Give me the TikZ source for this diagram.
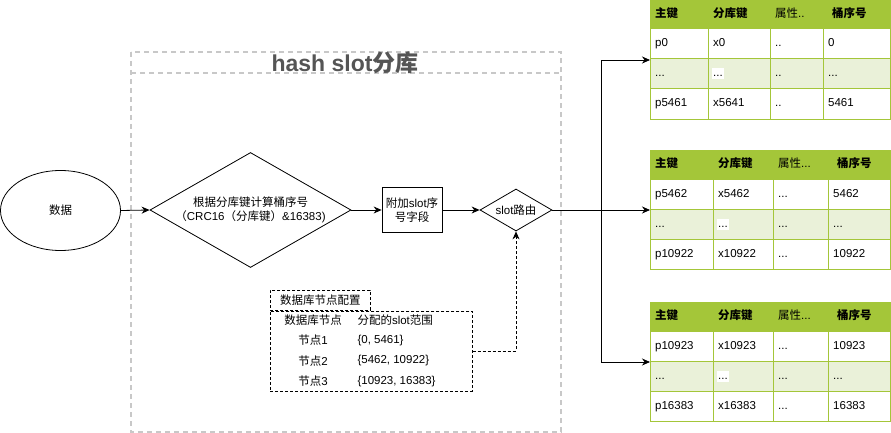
\documentclass[tikz,border=0pt]{standalone}
\usepackage{fontspec}
\setmainfont{Liberation Sans}
\newfontfamily\zhfont{Noto Sans CJK SC}
\newcommand{\zh}[1]{{\zhfont #1}}
\usetikzlibrary{arrows.meta}
\usetikzlibrary{shapes.geometric}
\definecolor{headgreen}{HTML}{A4C639}
\definecolor{rowgreen}{HTML}{EAF1D9}
\definecolor{boxgray}{HTML}{C8C8C8}
\definecolor{titlegray}{HTML}{555555}
\tikzset{>={Stealth[length=8pt,width=7pt]}}
\tikzset{
	flow/.style={draw, line width=0.8pt, fill=white},
	cell/.style={anchor=west, inner sep=0pt, text height=8.5pt, text depth=2.5pt},
	tabline/.style={draw=headgreen, line width=1pt},
	groupbox/.style={draw=boxgray, line width=1.3pt, dash pattern=on 5pt off 4pt},
	cfgbox/.style={draw, line width=0.7pt, dash pattern=on 3pt off 2pt},
}
% #1 name, #2 top, #3-#5 column lines, #6 attribute header
\newcommand{\slottable}[6]{%
	\def\tabname{#1}\def\tabtop{#2}\def\ctwo{#3}\def\cthree{#4}\def\cfour{#5}%
	\fill[headgreen] (650,#2) rectangle (890,#2+29);
	\fill[rowgreen] (650,#2+59) rectangle (890,#2+89);
	\foreach \yy in {29,59,89} \draw[tabline] (650,#2+\yy) -- (890,#2+\yy);
	\foreach \xx in {#3,#4,#5} \draw[tabline] (\xx,#2) -- (\xx,#2+119);
	\node[tabline, minimum width=240pt, minimum height=119pt, inner sep=0pt, anchor=north west] (#1) at (650,#2) {};
	\node[cell] (#1h1) at (655,#2+14.5) {\zh{\bfseries 主键}};
	\node[cell] (#1h2) at (#3+5,#2+14.5) {\zh{\bfseries 分库键}};
	\node[cell] (#1h3) at (#4+5,#2+14.5) {#6};
	\node[cell] (#1h4) at (#5+9,#2+14.5) {\zh{\bfseries 桶序号}};
}
% #1 row tag, #2 offset from top, #3-#6 cells
\newcommand{\slotrow}[6]{%
	\node[cell] (\tabname#11) at (655,\tabtop+#2) {#3};
	\node[cell] (\tabname#12) at (\ctwo+5,\tabtop+#2) {#4};
	\node[cell] (\tabname#13) at (\cthree+5,\tabtop+#2) {#5};
	\node[cell] (\tabname#14) at (\cfour+5,\tabtop+#2) {#6};
}
\newcommand{\dotrow}[1]{%
	\node[cell] (\tabname b1) at (655,\tabtop+74) {...};
	\node[cell, fill=white, inner xsep=1pt] (\tabname b2) at (\ctwo+4,\tabtop+74) {...};
	\node[cell] (\tabname b3) at (\cthree+5,\tabtop+74) {#1};
	\node[cell] (\tabname b4) at (\cfour+5,\tabtop+74) {...};
}

\begin{document}
\begin{tikzpicture}[x=1pt, y=-1pt, font=\fontsize{11.5}{14}\selectfont]
	\useasboundingbox (0,0) rectangle (891,433);

	% hash slot group
	\draw[groupbox] (131,52) rectangle (561,432);
	\draw[groupbox] (131,73) -- (561,73);
	\node[font=\fontsize{23}{25}\selectfont\bfseries, text=titlegray] (title) at (345,63) {hash slot\zh{分库}};

	% flow
	\node[ellipse, flow, minimum width=120pt, minimum height=80pt] (data) at (60.5,210.5) {\zh{数据}};
	\node[diamond, flow, minimum width=201pt, minimum height=115pt, inner sep=0pt,
		label={[align=center]center:{\zh{根据分库键计算桶序号}\\\zh{（}CRC16\zh{（分库键）}\&16383)}}] (hash) at (250.5,210) {};
	\node[flow, minimum width=60pt, minimum height=45pt, inner sep=1pt, align=center] (tag) at (412,210) {\zh{附加}slot\zh{序}\\\zh{号字段}};
	\node[diamond, flow, minimum width=72pt, minimum height=42pt, inner sep=0pt,
		label=center:slot\zh{路由}] (route) at (516,210) {};

	\draw[->, line width=0.8pt] (data.east) -- (hash.west);
	\draw[->, line width=0.8pt] (hash) -- (tag);
	\draw[->, line width=0.8pt] (tag) -- (route);

	% node config
	\node[cfgbox, minimum width=100pt, minimum height=20pt, inner sep=0pt, anchor=south west] (cfgtitle) at (270,310.5) {\zh{数据库节点配置}};
	\node[cfgbox, minimum width=202pt, minimum height=80pt, inner sep=0pt, anchor=north west] (cfg) at (270,310.5) {};
	\node (cfgh1) at (313,320.5) {\zh{数据库节点}};
	\node[anchor=west] (cfgh2) at (354,320.5) {\zh{分配的}slot\zh{范围}};
	\foreach \y/\n/\r [count=\i] in {340.5/1/{0, 5461}, 361/2/{5462, 10922}, 381.5/3/{10923, 16383}} {
		\node (cfgn\i) at (313,\y) {\zh{节点}\n};
		\node[anchor=west] (cfgr\i) at (354,\y) {\{\r\}};
	}
	\draw[->, cfgbox] (cfg.east) -| (route.south);

	% tables
	\slottable{tab1}{0}{708}{770}{823}{\zh{属性}..}
	\slotrow{a}{44}{p0}{x0}{..}{0}
	\dotrow{..}
	\slotrow{c}{104}{p5461}{x5641}{..}{5461}

	\slottable{tab2}{150}{713}{773}{828}{\zh{属性}...}
	\slotrow{a}{44}{p5462}{x5462}{...}{5462}
	\dotrow{...}
	\slotrow{c}{104}{p10922}{x10922}{...}{10922}

	\slottable{tab3}{302}{713}{773}{828}{\zh{属性}...}
	\slotrow{a}{44}{p10923}{x10923}{...}{10923}
	\dotrow{...}
	\slotrow{c}{104}{p16383}{x16383}{...}{16383}

	\coordinate (split) at (601,210);
	\draw[line width=0.8pt] (route.east) -- (split);
	\draw[->, line width=0.8pt] (split) |- (tab1.west);
	\draw[->, line width=0.8pt] (split) -- (tab2.west);
	\draw[->, line width=0.8pt] (split) |- (tab3.west);
\end{tikzpicture}
\end{document}
